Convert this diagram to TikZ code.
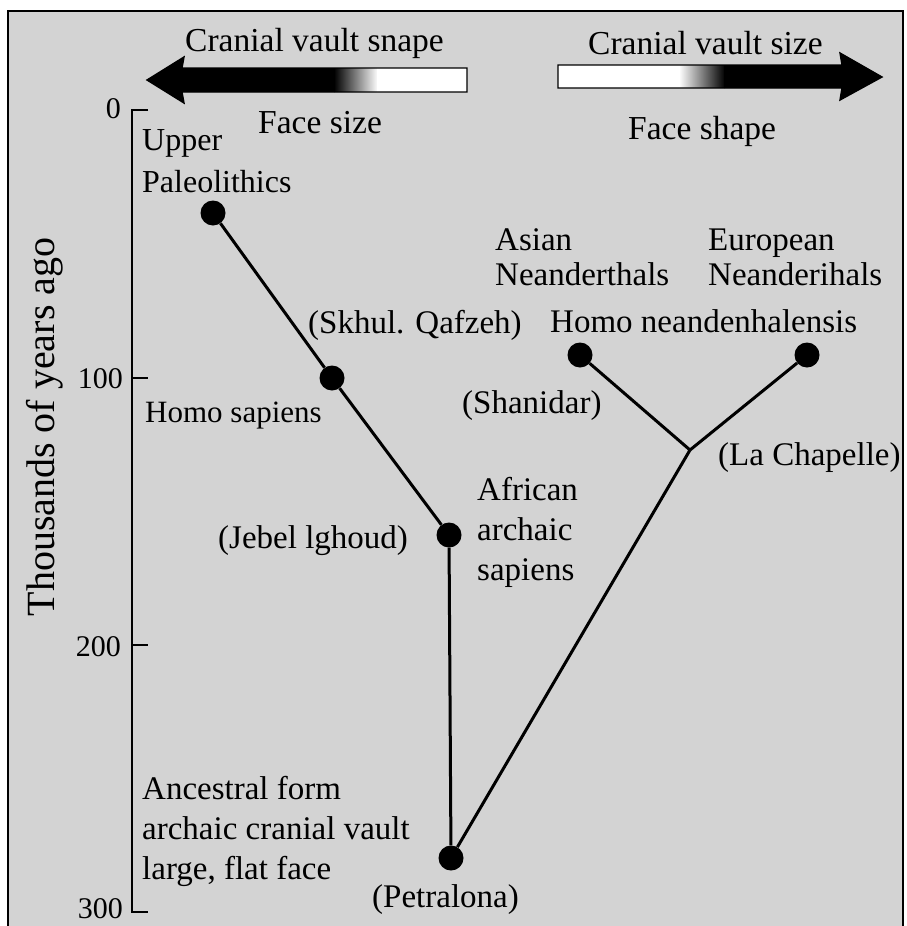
\documentclass[tikz,border=0pt]{standalone}
\usepackage{fontspec}
\setmainfont{Liberation Serif}
\definecolor{bg}{RGB}{211,211,211}
\begin{document}
\begin{tikzpicture}[x=1pt,y=-1pt,
  lbl/.style={inner sep=0pt, anchor=base west, align=left, font=\fontsize{33}{41}\selectfont},
  num/.style={inner sep=0pt, anchor=base east, font=\fontsize{30}{36}\selectfont},
  head/.style={inner sep=0pt, anchor=base west, font=\fontsize{33.5}{38}\selectfont},
  dot/.style={circle, fill=black, minimum size=25pt, inner sep=0pt},
  edge/.style={line width=3pt},
  axisline/.style={line width=2.6pt}]
\useasboundingbox (0,0) rectangle (906,926);
\fill[white] (0,0) rectangle (906,926);
\fill[bg] (8,11) rectangle (903,926);
\draw[line width=2.5pt] (8,926) -- (8,11) -- (903,11) -- (903,926);

% ---- top arrows ----
\begin{scope}
  \clip (147,80) -- (184,57) -- (182,68) -- (467,68) -- (467,92) -- (182,92) -- (184,103) -- cycle;
  \fill[black] (140,50) rectangle (335,110);
  \shade[left color=black, right color=white] (334,50) rectangle (378,110);
  \fill[white] (377,50) rectangle (470,110);
\end{scope}
\draw[line width=1.4pt, line join=miter] (147,80) -- (184,57) -- (182,68) -- (467,68) -- (467,92) -- (182,92) -- (184,103) -- cycle;
\begin{scope}
  \clip (558,65) -- (842,65) -- (840,53) -- (882,77) -- (840,100) -- (842,88) -- (558,88) -- cycle;
  \fill[white] (550,50) rectangle (680,110);
  \shade[left color=white, right color=black] (679,50) rectangle (725,110);
  \fill[black] (724,50) rectangle (890,110);
\end{scope}
\draw[line width=1.4pt, line join=miter] (558,65) -- (842,65) -- (840,53) -- (882,77) -- (840,100) -- (842,88) -- (558,88) -- cycle;
\node[head] (t1) at (185,51) {Cranial vault snape};
\node[head] (t2) at (258,133) {Face size};
\node[head] (t3) at (588,54) {Cranial vault size};
\node[head] (t4) at (628,139) {Face shape};

% ---- axis ----
\draw[axisline] (148,110) -- (132,110) -- (132,912) -- (148,912);
\draw[axisline] (132,378) -- (148,378);
\draw[axisline] (132,645) -- (148,645);
\node[num] (n0) at (121,118) {0};
\node[num] (n100) at (123,388) {100};
\node[num] (n200) at (121,656) {200};
\node[num] (n300) at (123,918) {300};
\node[inner sep=0pt, anchor=base, rotate=90, font=\fontsize{40}{44}\selectfont] (ytitle) at (54,427) {Thousands of years ago};

% ---- tree ----
\node[dot] (up) at (213,213) {};
\node[dot] (hs) at (332,378) {};
\node[dot] (jb) at (449,535) {};
\node[dot] (pe) at (451,858) {};
\node[dot] (sh) at (580,355) {};
\node[dot] (eu) at (807,355) {};
\coordinate (jn) at (690,450);
\draw[edge] (up) -- (hs);
\draw[edge] (hs) -- (jb);
\draw[edge] (jb) -- (pe);
\draw[edge] (pe) -- (jn);
\draw[edge] (jn) -- (sh);
\draw[edge] (jn) -- (eu);

% ---- labels (base = last line) ----
\node[lbl, font=\fontsize{32}{42}\selectfont] (l1) at (142,192) {Upper\\Paleolithics};
\node[lbl, font=\fontsize{31}{41}\selectfont] (l2) at (145,422) {Homo sapiens};
\node[lbl] (l3) at (308,333) {(Skhul. Qafzeh)};
\node[lbl] (l4) at (218,548) {(Jebel lghoud)};
\node[lbl, font=\fontsize{33}{40}\selectfont] (l5) at (477,580) {African\\archaic\\sapiens};
\node[lbl, font=\fontsize{33}{40}\selectfont] (l6) at (142,879) {Ancestral form\\archaic cranial vault\\large, flat face};
\node[lbl] (l7) at (372,907) {(Petralona)};
\node[lbl, font=\fontsize{33}{35}\selectfont] (l8) at (495,285) {Asian\\Neanderthals};
\node[lbl, font=\fontsize{33}{35}\selectfont] (l9) at (708,285) {European\\Neanderihals};
\node[lbl] (l10) at (550,332) {Homo neandenhalensis};
\node[lbl] (l11) at (462,413) {(Shanidar)};
\node[lbl] (l12) at (718,465) {(La Chapelle)};
\end{tikzpicture}
\end{document}
